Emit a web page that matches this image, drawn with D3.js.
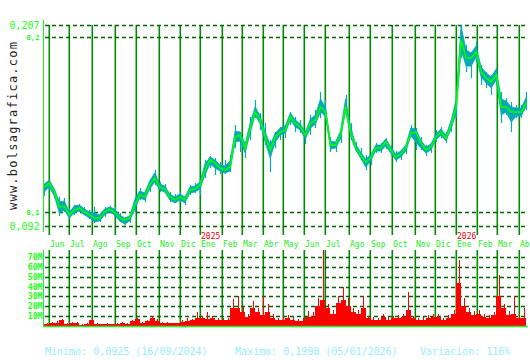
<!DOCTYPE html>
<html><head><meta charset="utf-8">
<script src="https://cdn.jsdelivr.net/npm/d3@7"></script>
<style>html,body{margin:0;padding:0;background:#fff;}svg{display:block;}</style>
</head><body>
<svg id="c" width="530" height="360"></svg>
<script>
// ---- data (weekly samples, every 5 trading days from 27/05/2024) ----
const closes = [0.1143,0.1166,0.1115,0.1029,0.1034,0.0983,0.1012,0.1023,0.1000,0.0983,
0.0966,0.0966,0.1000,0.1017,0.1000,0.0966,0.0954,0.0966,0.1040,0.1097,
0.1086,0.1155,0.1195,0.1143,0.1132,0.1086,0.1069,0.1086,0.1069,0.1126,
0.1132,0.1155,0.1240,0.1298,0.1280,0.1252,0.1240,0.1258,0.1429,0.1441,
0.1366,0.1481,0.1572,0.1526,0.1429,0.1355,0.1429,0.1458,0.1469,0.1544,
0.1509,0.1486,0.1441,0.1509,0.1526,0.1601,0.1572,0.1383,0.1383,0.1441,
0.1601,0.1458,0.1372,0.1326,0.1286,0.1309,0.1366,0.1366,0.1401,0.1355,
0.1315,0.1332,0.1366,0.1452,0.1458,0.1395,0.1355,0.1372,0.1429,0.1458,
0.1423,0.1498,0.1595,0.1985,0.1881,0.1881,0.1916,0.1801,0.1767,0.1744,
0.1784,0.1601,0.1601,0.1572,0.1572,0.1572,0.1624];
// typical daily high / low of each week
const typHighs = [0.1160,0.1183,0.1132,0.1058,0.1063,0.1000,0.1035,0.1040,0.1017,0.1000,
0.0995,0.0983,0.1017,0.1029,0.1017,0.0983,0.0966,0.0977,0.1069,0.1120,
0.1109,0.1178,0.1224,0.1160,0.1149,0.1103,0.1086,0.1103,0.1086,0.1143,
0.1149,0.1172,0.1275,0.1315,0.1297,0.1269,0.1263,0.1292,0.1463,0.1458,
0.1389,0.1510,0.1601,0.1549,0.1458,0.1384,0.1452,0.1481,0.1492,0.1567,
0.1526,0.1503,0.1458,0.1532,0.1555,0.1647,0.1601,0.1406,0.1400,0.1464,
0.1647,0.1487,0.1389,0.1343,0.1303,0.1326,0.1383,0.1383,0.1418,0.1372,
0.1332,0.1349,0.1383,0.1481,0.1475,0.1412,0.1372,0.1389,0.1446,0.1475,
0.1440,0.1521,0.1641,0.2065,0.1927,0.1910,0.1950,0.1830,0.1796,0.1773,
0.1818,0.1647,0.1635,0.1601,0.1595,0.1595,0.1658];
const typLows = [0.1114,0.1143,0.1092,0.0995,0.1011,0.0966,0.0995,0.1006,0.0983,0.0966,
0.0943,0.0949,0.0983,0.1000,0.0983,0.0949,0.0931,0.0949,0.1012,0.1080,
0.1069,0.1132,0.1172,0.1126,0.1115,0.1069,0.1052,0.1069,0.1052,0.1109,
0.1115,0.1132,0.1212,0.1275,0.1252,0.1235,0.1223,0.1235,0.1400,0.1407,
0.1338,0.1452,0.1555,0.1503,0.1400,0.1309,0.1400,0.1441,0.1452,0.1527,
0.1486,0.1469,0.1418,0.1480,0.1503,0.1572,0.1549,0.1360,0.1366,0.1418,
0.1578,0.1435,0.1355,0.1309,0.1257,0.1292,0.1349,0.1349,0.1378,0.1338,
0.1298,0.1315,0.1349,0.1435,0.1401,0.1366,0.1338,0.1355,0.1412,0.1441,
0.1406,0.1475,0.1561,0.1928,0.1835,0.1835,0.1887,0.1772,0.1738,0.1710,
0.1755,0.1555,0.1572,0.1515,0.1549,0.1549,0.1607];
// extreme high / low of each week
const highs = [0.1160,0.1183,0.1132,0.1086,0.1080,0.1023,0.1040,0.1046,0.1029,0.1012,
0.1029,0.0989,0.1029,0.1034,0.1029,0.0994,0.0972,0.0983,0.1086,0.1137,
0.1126,0.1183,0.1240,0.1172,0.1160,0.1115,0.1103,0.1115,0.1092,0.1155,
0.1166,0.1183,0.1298,0.1320,0.1309,0.1286,0.1298,0.1326,0.1498,0.1458,
0.1401,0.1544,0.1641,0.1567,0.1509,0.1412,0.1458,0.1486,0.1498,0.1572,
0.1544,0.1526,0.1469,0.1555,0.1584,0.1687,0.1641,0.1429,0.1412,0.1469,
0.1670,0.1509,0.1401,0.1366,0.1326,0.1326,0.1395,0.1395,0.1423,0.1383,
0.1349,0.1355,0.1383,0.1498,0.1481,0.1429,0.1383,0.1395,0.1469,0.1486,
0.1458,0.1526,0.1652,0.2070,0.1956,0.1916,0.1973,0.1841,0.1801,0.1784,
0.1824,0.1687,0.1652,0.1629,0.1612,0.1612,0.1687];
const lows = [0.1092,0.1126,0.1080,0.0977,0.1000,0.0960,0.0983,0.1000,0.0983,0.0960,
0.0937,0.0943,0.0972,0.1000,0.0977,0.0943,0.0926,0.0937,0.1000,0.1069,
0.1057,0.1115,0.1155,0.1115,0.1109,0.1057,0.1052,0.1063,0.1040,0.1097,
0.1109,0.1097,0.1195,0.1252,0.1212,0.1217,0.1217,0.1229,0.1366,0.1343,
0.1309,0.1412,0.1538,0.1469,0.1383,0.1229,0.1366,0.1412,0.1423,0.1498,
0.1458,0.1452,0.1389,0.1441,0.1481,0.1538,0.1538,0.1343,0.1343,0.1395,
0.1555,0.1412,0.1349,0.1298,0.1240,0.1269,0.1338,0.1338,0.1360,0.1326,
0.1286,0.1298,0.1332,0.1429,0.1355,0.1355,0.1320,0.1338,0.1401,0.1423,
0.1395,0.1458,0.1538,0.1881,0.1801,0.1767,0.1858,0.1727,0.1710,0.1670,
0.1727,0.1509,0.1555,0.1458,0.1538,0.1538,0.1584];
// weekly typical volume and weekly peak daily volume, millions
const volumes = [2,3,3,6,2,3,3,1,1.5,6,
2,1.5,2,1.5,2,3,2,5,7,2.5,
5,8,5,3,3,2.5,2.5,4,5,6,
8,8,7,8,6,6,6,18,18,14,
9,18,14,11,14,8,6,6,8,6,
5,5,9,9,20,26,18,12,23,26,
20,14,12,18,8,6,6,9,6,8,
8,9,16,8,6,6,8,9,9,6,
8,12,44,20,14,11,12,9,8,11,
30,18,11,12,8,8];
const volumePeaks = [3,4,5,7,3,4,4,2,3,7,
3,2,3,2,3,4,3,6,8,4,
6,10,7,4,4,3,3,6,8,7,
14,10,14,10,8,8,8,27,30,20,
12,25,18,30,22,12,8,10,11,9,
7,8,15,14,28,78,22,16,30,40,
28,18,16,30,10,9,8,12,9,10,
11,12,35,10,8,9,11,12,12,8,
11,16,67,28,18,15,16,12,11,14,
52,22,15,30,11,18];
const priceTicksMajor = [0.207, 0.092];
const priceTicksMinor = [0.2, 0.1];
const volumeTicks = [10,20,30,40,50,60,70];
const monthNames = ["Ene","Feb","Mar","Abr","May","Jun","Jul","Ago","Sep","Oct","Nov","Dic"];
const holidays = ["2024-12-25","2024-12-26","2025-01-01","2025-04-18","2025-04-21","2025-05-01","2025-12-25","2025-12-26","2026-01-01"];
const statsText = ["Minimo: 0,0925 (16/09/2024)","Maximo: 0,1998 (05/01/2026)","Variación: 116%"];
const watermark = "www.bolsagrafica.com";
const STEP = 5;

// ---- trading calendar ----
const fmt = d3.timeFormat("%Y-%m-%d");
const days = [];
for (let d = new Date(2024,4,27); d < new Date(2026,4,1); d = d3.timeDay.offset(d,1)) {
  const w = d.getDay();
  if (w === 0 || w === 6) continue;
  if (holidays.includes(fmt(d))) continue;
  days.push(d);
}
const idxOf = dt => days.findIndex(d => +d >= +dt);
const x = d3.scaleLinear()
  .domain([idxOf(new Date(2024,5,3)), idxOf(new Date(2026,3,1))])
  .range([49.3, 519.3]);
const y = d3.scaleLinear().domain([0.092, 0.207]).range([226, 25]);
const yv = d3.scaleLinear().domain([0, 70]).range([325.7, 257.3]);

const svg = d3.select("#c");
svg.append("rect").attr("width",530).attr("height",360).attr("fill","#fff");
const MONO = "'DejaVu Sans Mono', 'Liberation Mono', monospace";

// month starts
const monthStarts = [];
days.forEach((d,i) => {
  if (i>0 && d.getMonth() !== days[i-1].getMonth() && x(i) < 530) monthStarts.push({i, d});
});

// vertical month lines
const gv = svg.append("g").attr("stroke","#008c00").attr("stroke-width",1.6);
monthStarts.forEach(m => {
  const xx = Math.round(x(m.i)) + 0.3;
  gv.append("line").attr("x1",xx).attr("x2",xx).attr("y1",25).attr("y2",235);
  gv.append("line").attr("x1",xx).attr("x2",xx).attr("y1",250).attr("y2",326);
});

// horizontal dashed lines
const gh = svg.append("g").attr("stroke","#006400").attr("stroke-width",1.4).attr("stroke-dasharray","4,3");
priceTicksMajor.concat(priceTicksMinor).forEach(v => {
  const yy = Math.round(y(v)) + 0.5;
  gh.append("line").attr("x1",45).attr("x2",528).attr("y1",yy).attr("y2",yy);
});
volumeTicks.forEach(v => {
  const yy = Math.round(yv(v)) + 0.5;
  gh.append("line").attr("x1",45).attr("x2",528).attr("y1",yy).attr("y2",yy);
});

// price band (typical high-low), extreme wicks and close line
const series = closes.map((c,k) => ({i:k*STEP, c, th:typHighs[k], tl:typLows[k], h:highs[k], l:lows[k]}));
const CYAN = "#07a9b3";
svg.append("path").datum(series)
  .attr("fill",CYAN).attr("stroke",CYAN).attr("stroke-width",0.8)
  .attr("d", d3.area().x(d=>x(d.i)).y0(d=>y(d.tl)).y1(d=>y(d.th)));
svg.append("g").selectAll("line").data(series).join("line")
  .attr("x1",d=>Math.round(x(d.i))+0.5).attr("x2",d=>Math.round(x(d.i))+0.5)
  .attr("y1",d=>y(d.h)).attr("y2",d=>y(d.l))
  .attr("stroke",CYAN).attr("stroke-width",1.2);
svg.append("path").datum(series)
  .attr("fill","none").attr("stroke","#00ff00").attr("stroke-width",1.6)
  .attr("d", d3.line().x(d=>x(d.i)).y(d=>y(d.c)));

// volume bars + daily peak spikes
const gvol = svg.append("g").attr("shape-rendering","crispEdges");
gvol.selectAll("rect").data(volumes).join("rect")
  .attr("x",(v,k)=>x(k*STEP)).attr("width",(v,k)=>x((k+1)*STEP)-x(k*STEP))
  .attr("y",v=>yv(v)).attr("height",v=>yv(0)-yv(v))
  .attr("fill","#ff0000");
gvol.selectAll("line").data(volumePeaks).join("line")
  .attr("x1",(v,k)=>Math.round(x(k*STEP+2.5))+0.5).attr("x2",(v,k)=>Math.round(x(k*STEP+2.5))+0.5)
  .attr("y1",v=>Math.max(250,yv(v))).attr("y2",yv(0))
  .attr("stroke","#ff0000").attr("stroke-width",1.2);

// axes lines
svg.append("line").attr("x1",43.5).attr("x2",43.5).attr("y1",20).attr("y2",232).attr("stroke","#22ee22").attr("stroke-width",1);
svg.append("line").attr("x1",43.5).attr("x2",43.5).attr("y1",250).attr("y2",326).attr("stroke","#22ee22").attr("stroke-width",1);
svg.append("line").attr("x1",43).attr("x2",528).attr("y1",326.5).attr("y2",326.5).attr("stroke","#22ee22").attr("stroke-width",1.5);

// price tick labels
priceTicksMajor.forEach(v => {
  svg.append("text").attr("x",39.5).attr("y",y(v)+4).attr("text-anchor","end")
    .attr("font-family",MONO).attr("font-size",10).attr("fill","#22ff22")
    .text(d3.format(".3~f")(v).replace(".",","));
});
priceTicksMinor.forEach(v => {
  svg.append("text").attr("x",39.5).attr("y",y(v)+2.8).attr("text-anchor","end")
    .attr("font-family",MONO).attr("font-size",7.2).attr("font-weight","bold").attr("fill","#22ff22")
    .text(d3.format(".3~f")(v).replace(".",","));
});
// volume tick labels
volumeTicks.forEach(v => {
  svg.append("text").attr("x",42.5).attr("y",yv(v)+3).attr("text-anchor","end")
    .attr("font-family",MONO).attr("font-size",8.2).attr("font-weight","bold").attr("fill","#22ff22")
    .text(v + "M");
});

// month labels + year labels
monthStarts.forEach(m => {
  const xx = Math.round(x(m.i)) + 1;
  svg.append("text").attr("x",xx).attr("y",246.5)
    .attr("font-family",MONO).attr("font-size",8).attr("fill","#22ee22")
    .text(monthNames[m.d.getMonth()]);
  if (m.d.getMonth() === 0) {
    svg.append("text").attr("x",xx).attr("y",238.5)
      .attr("font-family",MONO).attr("font-size",8).attr("fill","#ee0000")
      .text(m.d.getFullYear());
  }
});

// watermark
svg.append("text").attr("transform","translate(16.5,210) rotate(-90)")
  .attr("font-family",MONO).attr("font-size",12).attr("fill","#222")
  .attr("textLength",168).attr("lengthAdjust","spacing")
  .text(watermark);

// stats
const statX = [45, 235, 420];
statsText.forEach((t,i) => {
  svg.append("text").attr("x",statX[i]).attr("y",355)
    .attr("font-family",MONO).attr("font-size",10).attr("fill","#99eefc")
    .text(t);
});
</script>
</body></html>
